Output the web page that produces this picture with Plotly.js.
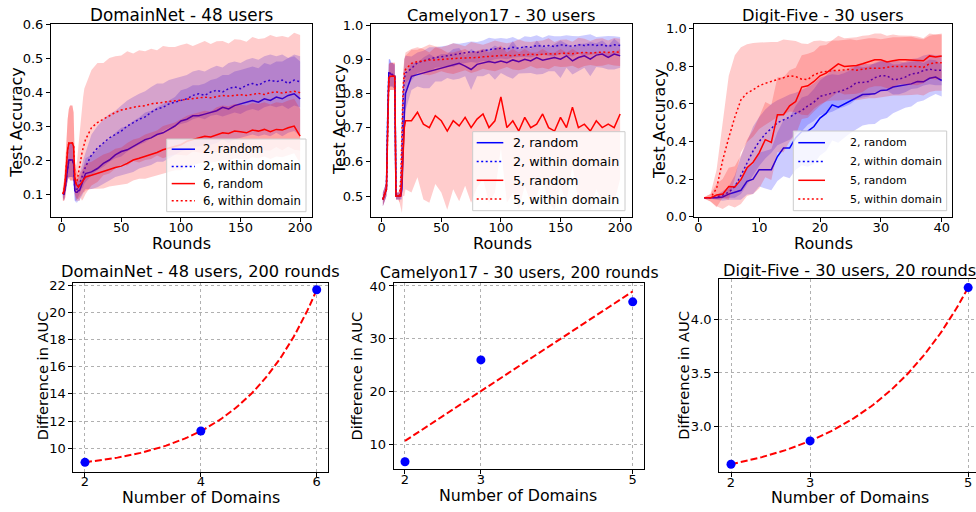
<!DOCTYPE html>
<html><head><meta charset="utf-8">
<script src="https://cdn.plot.ly/plotly-3.0.1.min.js"></script>
<style>html,body{margin:0;padding:0;background:#fff}#chart{width:976px;height:512px}</style>
</head><body><div id="chart"></div>
<script>
// ================= DATA =================
// Panel 1: DomainNet - 48 users
const dnRounds = [1,2,3,4,5,6,7,8,9,10,11,12,13,14,15,16,17,18,19,20,25,30,35,40,45,50,55,60,65,70,75,80,85,90,95,100,105,110,115,120,125,130,135,140,145,150,155,160,165,170,175,180,185,190,195,200];
const dnRand2 = [0.10,0.10,0.12,0.15,0.18,0.20,0.20,0.20,0.20,0.19,0.11,0.105,0.105,0.11,0.11,0.12,0.13,0.14,0.15,0.16,
  0.165,0.175,0.19,0.20,0.215,0.225,0.23,0.24,0.25,0.26,0.265,0.275,0.28,0.29,0.30,0.315,0.32,0.33,0.33,0.335,0.34,0.345,0.355,0.35,0.36,0.365,0.37,0.375,0.37,0.38,0.375,0.385,0.38,0.39,0.395,0.38];
const dnWithin2 = [0.10,0.10,0.12,0.15,0.18,0.20,0.20,0.20,0.20,0.19,0.11,0.11,0.115,0.12,0.13,0.14,0.15,0.16,0.17,0.18,
  0.215,0.235,0.25,0.265,0.275,0.285,0.30,0.31,0.32,0.327,0.34,0.35,0.355,0.365,0.37,0.376,0.38,0.39,0.395,0.39,0.40,0.405,0.40,0.41,0.415,0.41,0.42,0.425,0.42,0.43,0.435,0.43,0.435,0.425,0.435,0.43];
const dnRand6 = [0.10,0.11,0.14,0.19,0.23,0.25,0.25,0.25,0.25,0.24,0.15,0.13,0.125,0.12,0.125,0.13,0.135,0.14,0.145,0.15,
  0.155,0.16,0.166,0.172,0.178,0.182,0.19,0.20,0.205,0.21,0.215,0.222,0.23,0.235,0.24,0.245,0.255,0.26,0.265,0.27,0.268,0.275,0.28,0.278,0.285,0.283,0.28,0.288,0.285,0.29,0.283,0.29,0.288,0.295,0.30,0.27];
const dnWithin6 = [0.10,0.11,0.14,0.19,0.23,0.25,0.25,0.25,0.25,0.24,0.15,0.13,0.14,0.16,0.18,0.21,0.22,0.235,0.25,0.26,
  0.295,0.31,0.32,0.33,0.34,0.347,0.352,0.355,0.358,0.36,0.365,0.368,0.37,0.372,0.374,0.376,0.378,0.38,0.383,0.385,0.383,0.386,0.39,0.388,0.39,0.392,0.39,0.394,0.396,0.393,0.398,0.40,0.397,0.40,0.402,0.398];
const dnRand2Sd = [0.01,0.02,0.03,0.03,0.04,0.05,0.05,0.05,0.05,0.05,0.03,0.03,0.03,0.03,0.03,0.03,0.035,0.04,0.04,0.045,
  0.05,0.055,0.06,0.06,0.065,0.07,0.07,0.075,0.075,0.08,0.08,0.08,0.085,0.085,0.085,0.09,0.09,0.09,0.09,0.09,0.095,0.095,0.095,0.1,0.1,0.1,0.1,0.1,0.1,0.105,0.105,0.105,0.11,0.11,0.11,0.11];
const dnWithin2Sd = [0.01,0.02,0.03,0.03,0.04,0.05,0.05,0.05,0.05,0.05,0.03,0.03,0.03,0.03,0.03,0.03,0.035,0.04,0.04,0.045,
  0.06,0.065,0.07,0.07,0.07,0.075,0.075,0.075,0.075,0.075,0.075,0.075,0.07,0.07,0.07,0.07,0.07,0.07,0.07,0.07,0.07,0.072,0.072,0.075,0.075,0.075,0.075,0.075,0.075,0.075,0.075,0.075,0.075,0.075,0.075,0.075];
const dnRand6Sd = [0.02,0.03,0.05,0.07,0.09,0.1,0.11,0.11,0.11,0.1,0.05,0.04,0.04,0.035,0.035,0.035,0.035,0.035,0.04,0.04,
  0.04,0.045,0.05,0.05,0.055,0.055,0.06,0.06,0.06,0.065,0.065,0.065,0.07,0.07,0.07,0.075,0.075,0.075,0.075,0.075,0.075,0.08,0.08,0.08,0.08,0.08,0.08,0.08,0.08,0.08,0.08,0.08,0.08,0.08,0.08,0.08];
const dnWithin6Sd = [0.02,0.03,0.05,0.07,0.09,0.1,0.11,0.11,0.11,0.1,0.05,0.05,0.06,0.08,0.1,0.12,0.14,0.15,0.16,0.16,
  0.17,0.175,0.165,0.17,0.165,0.16,0.168,0.158,0.165,0.16,0.162,0.155,0.165,0.16,0.158,0.162,0.165,0.155,0.16,0.165,0.158,0.163,0.16,0.155,0.165,0.162,0.158,0.168,0.16,0.165,0.17,0.162,0.168,0.16,0.172,0.17];

// Panel 2: Camelyon17 - 30 users
const camRounds = [1,2,3,4,5,6,7,8,9,10,11,12,13,14,15,16,17,18,19,20,25,30,35,40,45,50,55,60,65,70,75,80,85,90,95,100,105,110,115,120,125,130,135,140,145,150,155,160,165,170,175,180,185,190,195,200];
const camRand2 = [0.49,0.50,0.51,0.52,0.72,0.86,0.86,0.855,0.855,0.85,0.85,0.50,0.50,0.50,0.50,0.50,0.52,0.65,0.74,0.80,
  0.85,0.855,0.86,0.865,0.87,0.875,0.88,0.885,0.888,0.88,0.87,0.885,0.89,0.893,0.89,0.895,0.89,0.898,0.893,0.90,0.895,0.905,0.897,0.90,0.905,0.90,0.91,0.895,0.905,0.91,0.90,0.912,0.915,0.905,0.915,0.91];
const camWithin2 = [0.49,0.50,0.51,0.52,0.72,0.86,0.86,0.855,0.855,0.85,0.85,0.50,0.50,0.50,0.50,0.50,0.62,0.78,0.84,0.86,
  0.873,0.89,0.895,0.90,0.905,0.907,0.91,0.912,0.915,0.918,0.922,0.92,0.925,0.928,0.93,0.932,0.93,0.935,0.932,0.937,0.935,0.94,0.938,0.94,0.937,0.942,0.94,0.938,0.942,0.94,0.943,0.94,0.942,0.938,0.942,0.94];
const camRand5 = [0.49,0.50,0.51,0.52,0.68,0.845,0.85,0.85,0.85,0.85,0.85,0.50,0.50,0.50,0.50,0.50,0.55,0.65,0.70,0.72,
  0.72,0.745,0.71,0.70,0.735,0.72,0.69,0.72,0.705,0.73,0.70,0.725,0.74,0.70,0.72,0.79,0.70,0.72,0.69,0.73,0.70,0.71,0.74,0.70,0.69,0.73,0.70,0.76,0.70,0.71,0.69,0.72,0.70,0.71,0.70,0.74];
const camWithin5 = [0.49,0.50,0.51,0.52,0.68,0.845,0.85,0.85,0.85,0.85,0.85,0.50,0.50,0.50,0.50,0.55,0.70,0.82,0.86,0.87,
  0.888,0.893,0.895,0.898,0.898,0.90,0.90,0.902,0.903,0.903,0.905,0.905,0.907,0.908,0.91,0.91,0.912,0.91,0.913,0.912,0.915,0.913,0.915,0.916,0.915,0.917,0.918,0.916,0.918,0.92,0.918,0.92,0.921,0.92,0.922,0.92];
const camRand2Sd = [0.02,0.02,0.02,0.02,0.06,0.04,0.04,0.035,0.035,0.035,0.035,0.01,0.01,0.01,0.01,0.01,0.03,0.06,0.06,0.05,
  0.04,0.035,0.045,0.05,0.035,0.04,0.035,0.045,0.045,0.03,0.06,0.035,0.04,0.035,0.05,0.035,0.04,0.055,0.035,0.04,0.035,0.05,0.04,0.035,0.04,0.055,0.035,0.04,0.04,0.035,0.05,0.035,0.04,0.035,0.045,0.035];
const camWithin2Sd = [0.02,0.02,0.02,0.02,0.06,0.04,0.04,0.035,0.035,0.035,0.035,0.01,0.01,0.01,0.01,0.01,0.03,0.06,0.06,0.05,
  0.035,0.03,0.03,0.035,0.03,0.03,0.03,0.035,0.03,0.03,0.03,0.03,0.03,0.035,0.03,0.03,0.03,0.03,0.025,0.03,0.03,0.03,0.025,0.03,0.03,0.025,0.03,0.03,0.025,0.03,0.03,0.025,0.025,0.03,0.025,0.025];
const camRand5Sd = [0.02,0.02,0.02,0.02,0.06,0.04,0.04,0.04,0.04,0.04,0.04,0.01,0.01,0.01,0.02,0.03,0.1,0.15,0.2,0.2,
  0.21,0.19,0.22,0.22,0.2,0.21,0.23,0.2,0.22,0.2,0.22,0.2,0.19,0.22,0.21,0.15,0.22,0.21,0.23,0.2,0.22,0.21,0.19,0.22,0.23,0.2,0.22,0.17,0.22,0.21,0.23,0.2,0.22,0.21,0.22,0.19];
const camWithin5Sd = [0.02,0.02,0.02,0.02,0.06,0.04,0.04,0.04,0.04,0.04,0.04,0.01,0.01,0.01,0.02,0.05,0.08,0.05,0.04,0.04,
  0.04,0.035,0.04,0.045,0.04,0.035,0.04,0.045,0.04,0.035,0.045,0.04,0.035,0.04,0.045,0.04,0.035,0.04,0.045,0.04,0.035,0.04,0.04,0.045,0.035,0.04,0.04,0.035,0.045,0.04,0.035,0.04,0.04,0.035,0.04,0.04];

// Panel 3: Digit-Five - 30 users
const dfRounds = [1,2,3,4,5,6,7,8,9,10,11,12,13,14,15,16,17,18,19,20,21,22,23,24,25,26,27,28,29,30,31,32,33,34,35,36,37,38,39,40];
const dfRand2 = [0.10,0.10,0.10,0.105,0.12,0.13,0.14,0.188,0.20,0.25,0.25,0.25,0.32,0.365,0.365,0.42,0.454,0.455,0.48,0.525,
  0.55,0.595,0.583,0.60,0.62,0.636,0.65,0.652,0.654,0.672,0.675,0.69,0.697,0.70,0.707,0.72,0.718,0.737,0.743,0.725];
const dfWithin2 = [0.10,0.10,0.105,0.115,0.13,0.16,0.22,0.285,0.35,0.40,0.44,0.47,0.50,0.515,0.53,0.55,0.565,0.59,0.61,0.64,
  0.65,0.658,0.665,0.675,0.69,0.715,0.715,0.72,0.74,0.75,0.75,0.73,0.732,0.743,0.76,0.764,0.778,0.785,0.78,0.78];
const dfRand5 = [0.10,0.10,0.115,0.12,0.16,0.158,0.197,0.26,0.29,0.34,0.41,0.395,0.543,0.543,0.59,0.613,0.69,0.697,0.72,0.75,
  0.764,0.79,0.814,0.80,0.803,0.805,0.814,0.826,0.835,0.835,0.824,0.83,0.835,0.835,0.833,0.83,0.83,0.856,0.85,0.856];
const dfWithin5 = [0.10,0.10,0.15,0.30,0.42,0.53,0.622,0.658,0.675,0.697,0.71,0.72,0.73,0.743,0.75,0.746,0.732,0.73,0.755,0.768,
  0.773,0.778,0.778,0.78,0.785,0.78,0.787,0.79,0.79,0.79,0.795,0.80,0.80,0.80,0.803,0.80,0.795,0.814,0.82,0.82];
const dfRand2Sd = [0.005,0.005,0.01,0.02,0.03,0.04,0.05,0.07,0.08,0.09,0.1,0.11,0.13,0.15,0.16,0.17,0.18,0.19,0.2,0.2,
  0.2,0.19,0.19,0.18,0.175,0.17,0.165,0.16,0.16,0.155,0.15,0.14,0.13,0.12,0.12,0.11,0.1,0.1,0.09,0.085];
const dfWithin2Sd = [0.005,0.005,0.01,0.02,0.03,0.06,0.1,0.12,0.13,0.13,0.13,0.13,0.12,0.12,0.12,0.11,0.11,0.1,0.1,0.1,
  0.1,0.1,0.09,0.09,0.09,0.09,0.08,0.08,0.08,0.08,0.08,0.08,0.08,0.08,0.08,0.08,0.08,0.08,0.08,0.08];
const dfRand5Sd = [0.005,0.02,0.06,0.08,0.1,0.11,0.13,0.15,0.17,0.19,0.2,0.2,0.2,0.2,0.19,0.18,0.17,0.17,0.16,0.16,
  0.15,0.15,0.15,0.15,0.15,0.15,0.15,0.14,0.14,0.14,0.14,0.14,0.13,0.13,0.13,0.13,0.12,0.12,0.12,0.12];
const dfWithin5Sd = [0.005,0.02,0.1,0.2,0.33,0.33,0.28,0.26,0.25,0.23,0.22,0.21,0.2,0.2,0.19,0.19,0.19,0.19,0.18,0.17,
  0.16,0.16,0.16,0.16,0.16,0.16,0.16,0.16,0.16,0.155,0.155,0.155,0.155,0.155,0.155,0.15,0.15,0.15,0.15,0.15];

// Bottom row: difference in AUC vs number of domains
const dnDomains = [2, 4, 6];
const dnAucDiff = [8.97, 11.27, 21.65];
const camDomains = [2, 3, 5];
const camAucDiff = [6.7, 26.0, 37.0];
const dfDomains = [2, 3, 5];
const dfAucDiff = [2.65, 2.867, 4.295];

// ================= HELPERS =================
const W = 976, H = 512;
const px = v => v / W;
const py = v => 1 - v / H;
const FONT = 'DejaVu Sans, Liberation Sans, sans-serif';
const BLUE = '#0000ff', RED = '#ff0000';
const BLUE_F = 'rgba(0,0,255,0.2)', RED_F = 'rgba(255,0,0,0.2)';
const DOT = '2px,2.5px';

function bandTrace(x, m, sd, fill, k) {
  const up = m.map((v, i) => v + sd[i]);
  const lo = m.map((v, i) => v - sd[i]);
  return {x: x.concat(x.slice().reverse()), y: up.concat(lo.reverse()),
    type: 'scatter', mode: 'lines', fill: 'toself', fillcolor: fill,
    line: {width: 0, color: 'rgba(0,0,0,0)'}, hoverinfo: 'skip', showlegend: false,
    xaxis: 'x' + k, yaxis: 'y' + k};
}
function lineTrace(x, m, color, dash, name, k) {
  return {x: x, y: m, type: 'scatter', mode: 'lines', name: name,
    line: {color: color, width: 1.5, dash: dash}, showlegend: false,
    xaxis: 'x' + k, yaxis: 'y' + k};
}

const traces = [];
function topPanel(k, x, series) {
  series.forEach(s => {
    traces.push(lineTrace(x, s.m, s.c, s.d, s.n, k));
    traces.push(bandTrace(x, s.m, s.sd, s.f, k));
  });
}
const dnSeries = [
  {m: dnRand2, sd: dnRand2Sd, c: BLUE, f: BLUE_F, d: 'solid', n: '2, random'},
  {m: dnWithin2, sd: dnWithin2Sd, c: BLUE, f: BLUE_F, d: DOT, n: '2, within domain'},
  {m: dnRand6, sd: dnRand6Sd, c: RED, f: RED_F, d: 'solid', n: '6, random'},
  {m: dnWithin6, sd: dnWithin6Sd, c: RED, f: RED_F, d: DOT, n: '6, within domain'}];
const camSeries = [
  {m: camRand2, sd: camRand2Sd, c: BLUE, f: BLUE_F, d: 'solid', n: '2, random'},
  {m: camWithin2, sd: camWithin2Sd, c: BLUE, f: BLUE_F, d: DOT, n: '2, within domain'},
  {m: camRand5, sd: camRand5Sd, c: RED, f: RED_F, d: 'solid', n: '5, random'},
  {m: camWithin5, sd: camWithin5Sd, c: RED, f: RED_F, d: DOT, n: '5, within domain'}];
const dfSeries = [
  {m: dfRand2, sd: dfRand2Sd, c: BLUE, f: BLUE_F, d: 'solid', n: '2, random'},
  {m: dfWithin2, sd: dfWithin2Sd, c: BLUE, f: BLUE_F, d: DOT, n: '2, within domain'},
  {m: dfRand5, sd: dfRand5Sd, c: RED, f: RED_F, d: 'solid', n: '5, random'},
  {m: dfWithin5, sd: dfWithin5Sd, c: RED, f: RED_F, d: DOT, n: '5, within domain'}];
topPanel(1, dnRounds, dnSeries);
topPanel(2, camRounds, camSeries);
topPanel(3, dfRounds, dfSeries);

// exponential fit y = a*exp(b*x)+c through three points
function expFit(xs, ys) {
  const R = (ys[1] - ys[0]) / (ys[2] - ys[1]);
  const g = b => (Math.exp(b * xs[1]) - Math.exp(b * xs[0])) / (Math.exp(b * xs[2]) - Math.exp(b * xs[1])) - R;
  let lo = 1e-6, hi = 10;
  for (let i = 0; i < 200; i++) { const mid = (lo + hi) / 2; if (g(mid) > 0) lo = mid; else hi = mid; }
  const b = (lo + hi) / 2;
  const a = (ys[1] - ys[0]) / (Math.exp(b * xs[1]) - Math.exp(b * xs[0]));
  const c = ys[0] - a * Math.exp(b * xs[0]);
  return x => a * Math.exp(b * x) + c;
}
function linFit(xs, ys) {
  const n = xs.length, mx = xs.reduce((s, v) => s + v, 0) / n, my = ys.reduce((s, v) => s + v, 0) / n;
  let sxy = 0, sxx = 0;
  xs.forEach((v, i) => { sxy += (v - mx) * (ys[i] - my); sxx += (v - mx) * (v - mx); });
  const s = sxy / sxx;
  return x => my + s * (x - mx);
}
function curveTrace(f, x0, x1, k) {
  const xs = [], ys = [];
  for (let i = 0; i <= 100; i++) { const x = x0 + (x1 - x0) * i / 100; xs.push(x); ys.push(f(x)); }
  return {x: xs, y: ys, type: 'scatter', mode: 'lines', line: {color: RED, width: 2, dash: '7px,3px'},
    showlegend: false, xaxis: 'x' + k, yaxis: 'y' + k, hoverinfo: 'skip'};
}
function pointTrace(x, y, k) {
  return {x: x, y: y, type: 'scatter', mode: 'markers', marker: {color: BLUE, size: 9},
    showlegend: false, xaxis: 'x' + k, yaxis: 'y' + k};
}
traces.push(curveTrace(expFit(dnDomains, dnAucDiff), 2, 6, 4));
traces.push(pointTrace(dnDomains, dnAucDiff, 4));
traces.push(curveTrace(linFit(camDomains, camAucDiff), 2, 5, 5));
traces.push(pointTrace(camDomains, camAucDiff, 5));
traces.push(curveTrace(expFit(dfDomains, dfAucDiff), 2, 5, 6));
traces.push(pointTrace(dfDomains, dfAucDiff, 6));

// ================= LAYOUT =================
function ax(dom, range, extra, vertical) {
  const d = vertical ? [py(dom[1]), py(dom[0])] : [px(dom[0]), px(dom[1])];
  return Object.assign({domain: d, range: range, showline: true, mirror: true, linecolor: '#000', linewidth: 1,
    ticks: 'outside', ticklen: 4, tickwidth: 1, tickcolor: '#000', tickfont: {size: 13, color: '#000', family: FONT},
    zeroline: false, showgrid: false, fixedrange: true}, vertical ? {} : {ticklabelstandoff: -6}, extra || {});
}
const GRID = {showgrid: true, gridcolor: '#b0b0b0', griddash: 'dot', gridwidth: 1};

const layout = {
  width: W, height: H, margin: {l: 0, r: 0, t: 0, b: 0},
  paper_bgcolor: '#fff', plot_bgcolor: '#fff', showlegend: false,
  font: {family: FONT, color: '#000'},
  xaxis:  ax([51, 312], [-8.95, 209.95], {tickvals: [0,50,100,150,200], anchor: 'y'}),
  yaxis:  ax([24, 217], [0.0324, 0.6], {tickvals: [0.1,0.2,0.3,0.4,0.5,0.6], tickformat: '.1f', anchor: 'x'}, true),
  xaxis2: ax([371, 632], [-8.95, 209.95], {tickvals: [0,50,100,150,200], anchor: 'y2'}),
  yaxis2: ax([24, 217], [0.4386, 1.003], {tickvals: [0.5,0.6,0.7,0.8,0.9,1.0], tickformat: '.1f', anchor: 'x2'}, true),
  xaxis3: ax([694.3, 952.3], [-0.66, 41.74], {tickvals: [0,10,20,30,40], anchor: 'y3'}),
  yaxis3: ax([24, 217], [-0.002, 1.026], {tickvals: [0,0.2,0.4,0.6,0.8,1.0], tickformat: '.1f', anchor: 'x3'}, true),
  xaxis4: ax([73.4, 328.3], [1.8, 6.2], Object.assign({tickvals: [2,4,6], anchor: 'y4'}, GRID)),
  yaxis4: ax([283.3, 471.7], [8.28, 22.125], Object.assign({tickvals: [10,12,14,16,18,20,22], anchor: 'x4'}, GRID), true),
  xaxis5: ax([393.6, 644.1], [1.85, 5.15], Object.assign({tickvals: [2,3,5], anchor: 'y5'}, GRID)),
  yaxis5: ax([283.3, 469.3], [5.27, 40.51], Object.assign({tickvals: [10,20,30,40], anchor: 'x5'}, GRID), true),
  xaxis6: ax([719.15, 976], [1.85, 5.099], Object.assign({tickvals: [2,3,5], anchor: 'y6'}, GRID)),
  yaxis6: ax([279, 472.3], [2.575, 4.375], Object.assign({tickvals: [3.0,3.5,4.0], tickformat: '.1f', anchor: 'x6', mirror: false}, GRID), true),
  annotations: [], shapes: []
};
function label(text, x, y, size, angle, anchor) {
  layout.annotations.push({text: text, x: px(x), y: py(y), xref: 'paper', yref: 'paper', xanchor: anchor || 'center', yanchor: 'middle',
    showarrow: false, textangle: angle || 0, font: {size: size, family: FONT, color: '#000'}});
}
label('DomainNet - 48 users', 181.5, 15, 16.8);
label('Camelyon17 - 30 users', 501.5, 15, 16.3);
label('Digit-Five - 30 users', 823.3, 15, 16.2);
label('Rounds', 181.7, 243, 16);
label('Rounds', 502.5, 243, 16);
label('Rounds', 823.3, 243, 16);
label('Test Accuracy', 15.8, 122, 16, -90);
label('Test Accuracy', 339, 120, 16, -90);
label('Test Accuracy', 658.8, 123.3, 16, -90);
label('DomainNet - 48 users, 200 rounds', 200.9, 271.7, 16.2);
label('Camelyon17 - 30 users, 200 rounds', 519, 273, 15.6);
label('Digit-Five - 30 users, 20 rounds', 849.5, 270, 16.2);
label('Number of Domains', 200.8, 497.5, 15.8);
label('Number of Domains', 518.3, 495, 15.8);
label('Number of Domains', 849.5, 497.5, 15.8);
label('Difference in AUC', 42.5, 375.8, 14.6, -90);
label('Difference in AUC', 356.7, 375.8, 14.6, -90);
label('Difference in AUC', 684, 375.8, 14.6, -90);

// legend boxes (drawn as shapes + text, one per top panel)
function legendBox(series, box, rows0, rowGap, lineX, textX, fontSize) {
  layout.shapes.push({type: 'rect', xref: 'paper', yref: 'paper', x0: px(box[0]), x1: px(box[1]), y0: py(box[3]), y1: py(box[2]),
    fillcolor: 'rgba(255,255,255,0.8)', line: {color: '#cccccc', width: 1}, layer: 'above'});
  series.forEach((s, i) => {
    const y = rows0 + i * rowGap;
    layout.shapes.push({type: 'line', xref: 'paper', yref: 'paper', x0: px(lineX[0]), x1: px(lineX[1]), y0: py(y), y1: py(y),
      line: {color: s.c, width: 1.5, dash: s.d}, layer: 'above'});
    label(s.n, textX, y, fontSize, 0, 'left');
  });
}
legendBox(dnSeries, [166.7, 306, 139, 211.7], 149.2, 17.2, [171.7, 195], 201, 11.7);
legendBox(camSeries, [472.7, 625, 131.7, 210.7], 142.7, 18.8, [476.7, 503.3], 511, 12.7);
legendBox(dfSeries, [793.3, 946.7, 131, 210.7], 142.7, 18.8, [798.3, 825], 848, 11);

Plotly.newPlot('chart', traces, layout, {displayModeBar: false, staticPlot: true});
</script>
</body></html>
